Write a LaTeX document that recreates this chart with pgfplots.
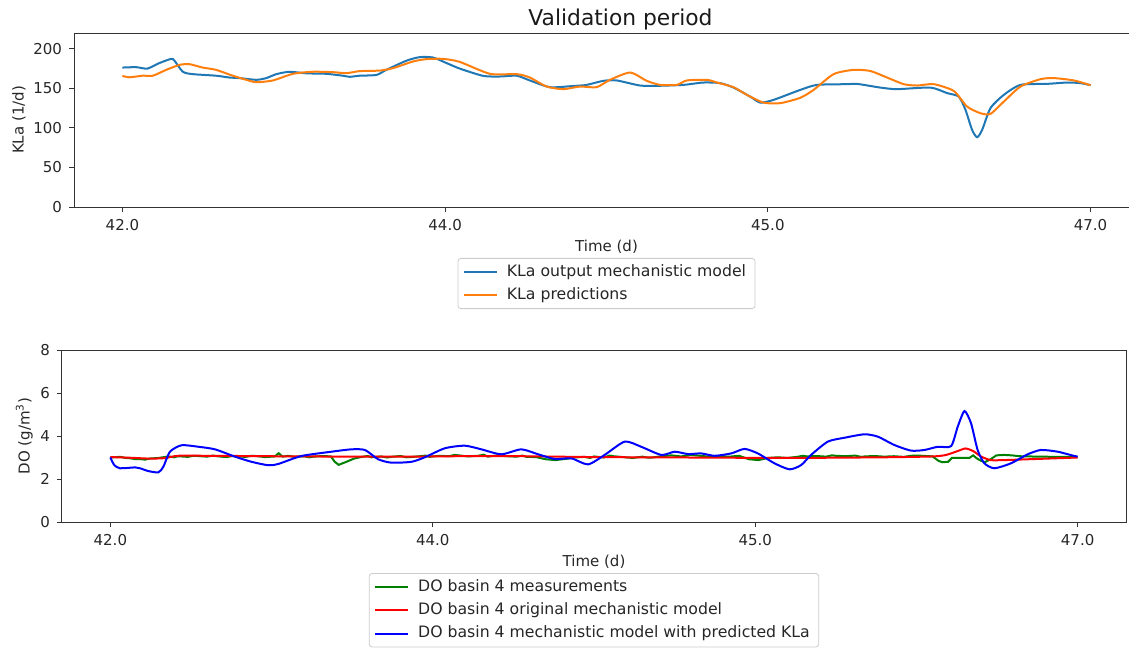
\documentclass[border=0pt]{standalone}
\usepackage{pgfplots}
\pgfplotsset{compat=1.18}
\usepackage{fontspec}
\setmainfont{DejaVu Sans}
\definecolor{mplblue}{HTML}{1F77B4}
\definecolor{mplorange}{HTML}{FF7F0E}
\definecolor{mgreen}{HTML}{008000}
\definecolor{mred}{HTML}{FF0000}
\definecolor{mblue}{HTML}{0000FF}
\definecolor{frame}{HTML}{333333}
\newcommand{\fs}{\fontsize{7.5}{9}\selectfont}
\newcommand{\fl}{\fontsize{7.85}{9}\selectfont}
\pgfplotsset{
  common/.style={
    scale only axis,
    xmin=41.75, xmax=47.25,
    xtick={42,43.6667,45.3333,47},
    xticklabels={42.0,44.0,45.0,47.0},
    tick pos=left,
    tick align=outside,
    major tick length=2.5pt,
    every tick/.style={frame, line width=0.5pt},
    axis line style={frame, line width=0.5pt},
    tick label style={font=\fs, text=black!85},
    label style={font=\fs, text=black!85},
    ylabel shift=-3pt,
    /pgf/number format/assume math mode=true,
    xlabel={Time (d)},
    xlabel style={yshift=2pt},
    legend cell align=left,
    legend image code/.code={\draw[##1, line width=1pt] (0pt,0pt) -- (16.5pt,0pt);},
    legend style={font=\fl, draw=black!20, rounded corners=1.5pt, inner xsep=2.5pt, inner ysep=1pt, row sep=0.2pt, text=black!85, anchor=north,
      /tikz/every odd column/.append style={column sep=2.5pt}},
  }
}
\begin{document}
\begin{tikzpicture}
\useasboundingbox (0pt,0pt) rectangle (564.5pt,-324pt);
\begin{axis}[common,
  at={(37pt,-103.5pt)}, anchor=south west,
  width=532.5pt, height=87pt,
  ymin=0, ymax=220, ytick={0,50,100,150,200},
  ylabel={KLa (1/d)},
  title={Validation period},
  title style={font=\fontsize{10.9}{13}\selectfont, text=black!90, xshift=7pt, yshift=-8pt},
  legend style={at={(0.5,-0.293)}},
]
\addplot[mplblue, line width=1pt, smooth, tension=0.4] table {
42.000 176.3
42.071 176.8
42.129 175.0
42.191 182.0
42.252 187.3
42.269 185.0
42.312 171.0
42.363 168.0
42.484 166.0
42.553 163.7
42.605 163.0
42.691 160.8
42.743 163.0
42.795 168.0
42.863 171.0
42.950 169.0
43.053 168.4
43.139 166.0
43.174 164.6
43.225 166.0
43.312 167.0
43.363 173.4
43.467 185.0
43.536 189.5
43.604 189.0
43.674 182.0
43.742 175.0
43.863 165.8
43.949 165.0
44.036 166.0
44.104 160.0
44.208 151.5
44.328 153.0
44.398 154.4
44.483 159.5
44.553 160.0
44.673 153.6
44.760 153.2
44.897 154.4
45.000 157.4
45.087 156.6
45.156 151.0
45.242 139.6
45.294 132.0
45.362 135.4
45.500 148.0
45.587 154.4
45.742 155.3
45.794 155.7
45.914 151.0
46.000 149.0
46.173 151.0
46.259 144.0
46.319 139.6
46.354 122.8
46.388 97.5
46.414 88.2
46.440 97.5
46.483 125.0
46.552 141.8
46.638 154.4
46.776 155.7
46.880 157.4
46.948 156.6
47.000 154.0
};
\addlegendentry{KLa output mechanistic model}
\addplot[mplorange, line width=1pt, smooth, tension=0.4] table {
42.000 165.8
42.036 164.0
42.105 166.0
42.157 166.0
42.226 173.4
42.295 179.7
42.346 180.6
42.415 176.3
42.484 173.4
42.570 166.0
42.640 160.8
42.691 157.8
42.777 160.0
42.881 168.4
42.984 171.0
43.087 170.5
43.157 169.2
43.225 171.8
43.329 172.5
43.398 175.6
43.501 184.0
43.570 187.0
43.656 187.3
43.742 183.5
43.898 168.4
44.036 168.0
44.104 163.7
44.191 152.3
44.277 149.0
44.363 152.3
44.449 151.5
44.518 160.8
44.622 170.0
44.708 159.5
44.777 154.4
44.863 154.4
44.915 160.0
45.018 160.8
45.070 157.4
45.156 151.5
45.225 141.8
45.311 132.0
45.397 131.3
45.500 138.0
45.569 148.0
45.673 168.0
45.776 173.4
45.862 172.0
45.949 163.7
46.035 155.3
46.104 153.6
46.190 155.3
46.293 146.8
46.362 127.0
46.431 118.6
46.483 117.7
46.552 133.3
46.638 152.3
46.741 161.6
46.810 163.0
46.914 160.0
47.000 154.0
};
\addlegendentry{KLa predictions}
\end{axis}
\begin{axis}[common,
  at={(31pt,-261pt)}, anchor=south west,
  width=532pt, height=86pt,
  ymin=0, ymax=8, ytick={0,2,4,6,8},
  ylabel={DO (g/m\textsuperscript{3})},
  legend style={at={(0.5,-0.2965)}},
]
\addplot[mgreen, line width=1pt] table {
42.00 3.00
42.05 3.03
42.08 2.98
42.10 2.97
42.13 2.92
42.15 2.93
42.18 2.90
42.20 2.95
42.25 2.98
42.30 3.05
42.33 3.01
42.35 3.06
42.40 3.03
42.43 3.08
42.45 3.07
42.50 3.04
42.53 3.09
42.55 3.06
42.60 3.02
42.63 3.07
42.65 3.05
42.70 3.03
42.73 3.08
42.75 3.07
42.80 3.02
42.85 3.05
42.87 3.20
42.89 3.04
42.92 3.08
42.95 3.03
43.00 3.06
43.03 3.01
43.05 3.04
43.10 3.07
43.14 3.05
43.16 2.80
43.18 2.66
43.22 2.80
43.26 2.95
43.30 3.03
43.33 3.07
43.35 3.01
43.40 3.05
43.43 3.00
43.45 3.03
43.50 3.07
43.53 3.01
43.55 3.02
43.60 3.06
43.63 3.09
43.65 3.03
43.70 3.08
43.75 3.06
43.78 3.12
43.80 3.10
43.85 3.05
43.90 3.08
43.93 3.13
43.95 3.04
44.00 3.10
44.05 3.06
44.10 3.04
44.13 3.09
44.15 3.03
44.20 3.02
44.25 2.92
44.30 2.88
44.35 2.93
44.40 3.00
44.45 3.03
44.48 2.98
44.50 3.05
44.55 3.00
44.58 3.09
44.60 3.06
44.65 3.02
44.70 2.98
44.75 3.04
44.78 2.99
44.80 3.00
44.85 3.06
44.90 3.10
44.95 3.05
45.00 3.12
45.05 3.08
45.10 3.03
45.15 3.06
45.20 3.04
45.25 3.08
45.30 2.92
45.35 2.88
45.40 2.98
45.45 3.01
45.50 2.98
45.55 3.03
45.58 3.08
45.60 3.05
45.65 3.07
45.70 3.04
45.73 3.10
45.75 3.08
45.80 3.06
45.85 3.09
45.88 3.03
45.90 3.05
45.95 3.07
46.00 3.04
46.05 3.06
46.10 3.03
46.15 3.09
46.20 3.08
46.25 3.05
46.28 2.85
46.30 2.78
46.33 2.80
46.35 2.98
46.40 2.98
46.44 2.98
46.46 3.10
46.48 2.95
46.50 2.85
46.52 2.78
46.55 2.92
46.58 3.10
46.62 3.12
46.66 3.10
46.70 3.06
46.80 3.04
46.90 3.03
47.00 3.02
};
\addlegendentry{DO basin 4 measurements}
\addplot[mred, line width=1pt, smooth, tension=0.4] table {
42.00 3.02
42.10 2.99
42.20 2.95
42.28 2.97
42.35 3.08
42.50 3.08
43.00 3.05
43.50 3.04
44.00 3.07
44.50 3.02
45.00 3.00
45.50 2.98
46.00 3.01
46.25 3.05
46.32 3.12
46.38 3.30
46.42 3.42
46.46 3.30
46.50 3.05
46.55 2.88
46.62 2.88
46.75 2.92
47.00 3.00
};
\addlegendentry{DO basin 4 original mechanistic model}
\addplot[mblue, line width=1pt, smooth, tension=0.4] table {
42.000 3.00
42.020 2.65
42.050 2.50
42.128 2.54
42.153 2.50
42.196 2.37
42.248 2.31
42.274 2.57
42.308 3.27
42.368 3.57
42.455 3.50
42.541 3.38
42.644 3.04
42.730 2.80
42.816 2.64
42.868 2.70
42.988 3.07
43.143 3.27
43.246 3.38
43.316 3.35
43.384 2.92
43.453 2.76
43.556 2.80
43.625 3.01
43.729 3.43
43.832 3.55
43.918 3.38
44.021 3.15
44.124 3.38
44.211 3.15
44.297 2.93
44.383 2.96
44.469 2.68
44.555 3.12
44.659 3.74
44.744 3.50
44.848 3.12
44.917 3.27
44.986 3.16
45.054 3.19
45.123 3.08
45.209 3.19
45.278 3.40
45.347 3.19
45.433 2.73
45.511 2.45
45.571 2.65
45.622 3.12
45.709 3.74
45.795 3.92
45.898 4.08
45.967 3.97
46.053 3.58
46.139 3.32
46.208 3.35
46.277 3.50
46.346 3.53
46.380 4.43
46.415 5.16
46.449 4.59
46.483 3.35
46.518 2.73
46.570 2.50
46.655 2.73
46.742 3.15
46.810 3.35
46.897 3.27
46.983 3.07
47.000 3.05
};
\addlegendentry{DO basin 4 mechanistic model with predicted KLa}
\end{axis}
\end{tikzpicture}
\end{document}
